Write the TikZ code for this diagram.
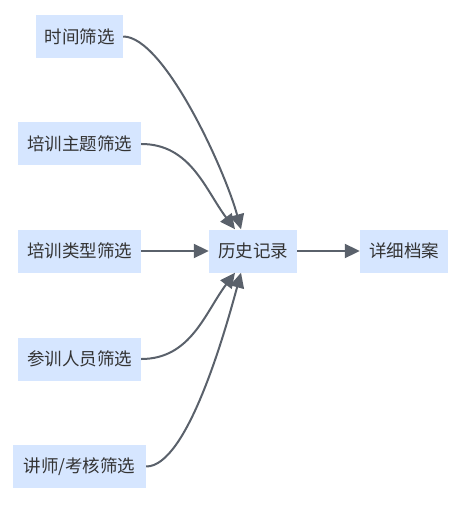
\documentclass[tikz,border=0pt]{standalone}
\usepackage{fontspec}
\setmainfont{Noto Sans CJK SC}
\usetikzlibrary{arrows.meta}
\definecolor{boxfill}{HTML}{D6E6FF}
\definecolor{linegray}{HTML}{5A616B}
\definecolor{textgray}{HTML}{333333}
\begin{document}
\begin{tikzpicture}[
        x=1pt, y=1pt,
        >={Triangle[length=15pt, width=14pt]},
        box/.style={fill=boxfill, text=textgray, inner sep=0pt,
                    minimum width=123pt, minimum height=43pt,
                    font=\fontsize{17.5}{20}\selectfont},
        arr/.style={->, line width=2pt, draw=linegray}
      ]
        \useasboundingbox (0,0) rectangle (470,-510);

        \node[box, minimum width=87pt] (time) at (79.5,-36.5) {时间筛选};
        \node[box] (topic) at (79.5,-144) {培训主题筛选};
        \node[box] (type) at (79.5,-251) {培训类型筛选};
        \node[box] (trainee) at (79.5,-359) {参训人员筛选};
        \node[box, minimum width=133pt] (lecturer) at (79.5,-466.5) {讲师/考核筛选};

        \node[box, minimum width=88pt] (history) at (253,-251) {历史记录};
        \node[box, minimum width=88pt] (archive) at (404,-251) {详细档案};

        \draw[arr] (time.east) .. controls +(41,0) and +(-16,59) .. ([xshift=-12pt]history.north);
        \draw[arr] (topic.east) to[out=0, in=127] ([xshift=-18pt]history.north);
        \draw[arr] (type) -- (history);
        \draw[arr] (trainee.east) to[out=0, in=-127] ([xshift=-18pt]history.south);
        \draw[arr] (lecturer.east) .. controls +(41,0) and +(-16,-59) .. ([xshift=-12pt]history.south);
        \draw[arr] (history) -- (archive);
      \end{tikzpicture}
\end{document}
